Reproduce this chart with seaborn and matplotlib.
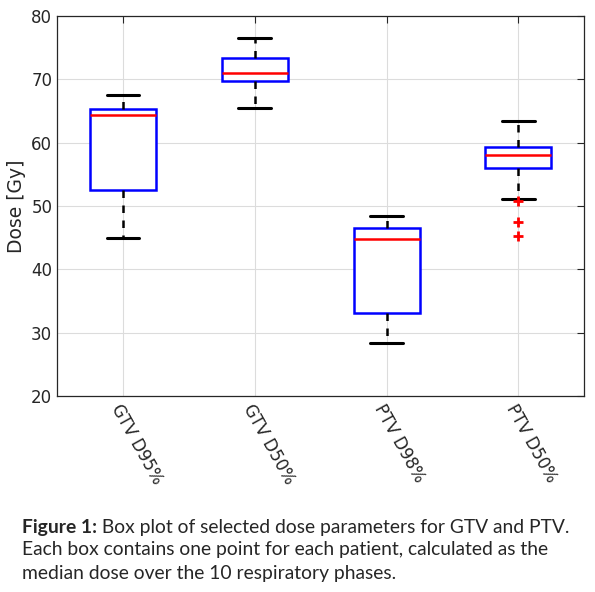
import pandas as pd
import seaborn as sns
import matplotlib.pyplot as plt

# ======================================
# DATA (one value per patient)
# ======================================

categories = [
    "GTV D95%",
    "GTV D50%",
    "PTV D98%",
    "PTV D50%"
]

gtv_d95 = [45.0, 47.5, 49.8, 51.5, 52.6, 55.0, 58.2, 61.7, 64.4,
           64.6, 64.8, 65.0, 65.3, 65.8, 66.4, 67.0, 67.5]
gtv_d50 = [65.5, 67.0, 68.2, 69.1, 69.7, 70.1, 70.4, 70.7, 71.0,
           71.5, 72.1, 72.8, 73.4, 74.0, 74.8, 75.7, 76.5]
ptv_d98 = [28.4, 29.6, 30.8, 32.0, 33.1, 35.5, 38.4, 41.6, 44.8,
           45.1, 45.5, 46.0, 46.5, 47.0, 47.5, 48.0, 48.4]
ptv_d50 = [45.3, 47.4, 50.8, 51.1, 56.0, 56.6, 57.1, 57.6, 58.1,
           58.4, 58.6, 59.0, 59.3, 60.4, 61.6, 62.5, 63.4]

yticks = [20, 30, 40, 50, 60, 70, 80]

caption_bold = "Figure 1:"
caption_rest = " Box plot of selected dose parameters for GTV and PTV."
caption_line2 = "Each box contains one point for each patient, calculated as the"
caption_line3 = "median dose over the 10 respiratory phases."

# ======================================
# LONG FORM TABLE
# ======================================

df = pd.DataFrame({
    "param": (
        [categories[0]] * len(gtv_d95)
        + [categories[1]] * len(gtv_d50)
        + [categories[2]] * len(ptv_d98)
        + [categories[3]] * len(ptv_d50)
    ),
    "dose": gtv_d95 + gtv_d50 + ptv_d98 + ptv_d50
})

# ======================================
# PLOT
# ======================================

sns.set_style("white")

fig = plt.figure(figsize=(5.95, 5.92), dpi=100)
ax = fig.add_axes([0.096, 0.331, 0.886, 0.642])

sns.boxplot(
    data=df,
    x="param",
    y="dose",
    order=categories,
    width=0.5,
    whis=1.5,
    linewidth=1.8,
    boxprops=dict(facecolor="white", edgecolor="blue", linewidth=1.8),
    medianprops=dict(color="red", linewidth=1.8),
    whiskerprops=dict(color="black", linestyle=(0, (3, 3)), linewidth=1.8),
    capprops=dict(color="black", linewidth=2.2),
    flierprops=dict(marker="+", markeredgecolor="red",
                    markerfacecolor="red", markersize=7,
                    markeredgewidth=2),
    ax=ax
)

ax.set_xlim(-0.5, 3.5)
ax.set_ylim(20, 80)
ax.set_yticks(yticks)

ax.grid(True, color="#dcdcdc", linewidth=0.8)
ax.set_axisbelow(True)

for side in ["top", "bottom", "left", "right"]:
    ax.spines[side].set_visible(True)
    ax.spines[side].set_color("#262626")
    ax.spines[side].set_linewidth(0.9)

ax.tick_params(
    direction="in",
    length=5,
    width=0.8,
    top=True,
    right=True,
    labelsize=12,
    colors="#262626"
)

ax.set_xlabel("")
ax.set_ylabel("Dose [Gy]", fontsize=13.5, color="#262626", labelpad=4)

plt.setp(
    ax.get_xticklabels(),
    rotation=-61,
    ha="left",
    va="top",
    rotation_mode="anchor"
)

for lbl in ax.get_xticklabels():
    lbl.set_fontsize(12)

# ======================================
# CAPTION
# ======================================

cap_font = "Lato"
cap_size = 13.9

bold_text = fig.text(
    22 / 595, 1 - 528 / 592, caption_bold,
    fontsize=cap_size, fontweight="bold", family=cap_font,
    va="center", ha="left"
)

renderer = fig.canvas.get_renderer()
bb = bold_text.get_window_extent(renderer=renderer)

fig.text(
    bb.x1 / fig.bbox.width, 1 - 528 / 592, caption_rest,
    fontsize=cap_size, family=cap_font, va="center", ha="left"
)

fig.text(
    22 / 595, 1 - 550 / 592, caption_line2,
    fontsize=cap_size, family=cap_font, va="center", ha="left"
)

fig.text(
    22 / 595, 1 - 573 / 592, caption_line3,
    fontsize=cap_size, family=cap_font, va="center", ha="left"
)

fig.savefig("out.png", dpi=100)
